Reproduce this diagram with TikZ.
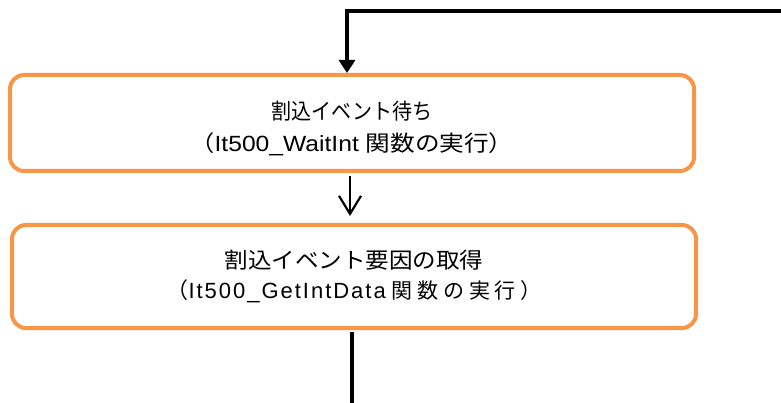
\documentclass[tikz,border=0pt]{standalone}
\usepackage{fontspec}
\setmainfont{Liberation Sans}
\newfontfamily\jp{Noto Sans CJK JP}
\usetikzlibrary{arrows.meta}
\definecolor{boxorange}{HTML}{F79646}
\begin{document}
\begin{tikzpicture}[x=1pt,y=-1pt,
  procbox/.style={draw=boxorange, line width=4pt, rounded corners=14pt,
    minimum width=684pt, inner sep=0pt, align=center,
    font=\fontsize{22pt}{32pt}\selectfont},
  thickline/.style={line width=3.5pt, black},
  thinarrow/.style={line width=2.2pt, black, -{Straight Barb[length=18pt,width=22pt,line width=2.2pt]}}]
\useasboundingbox (0,0) rectangle (781,403);
\node[procbox, minimum height=96pt] (wait) at (352,123)
  {\rule{0pt}{30pt}{\jp\addfontfeature{FakeStretch=0.91}割込イベント待ち}\\[0pt]%
   {\jp\addfontfeature{FakeStretch=1.1}（}{\addfontfeature{FakeStretch=1.12}It500\_WaitInt }{\jp\addfontfeature{FakeStretch=1.12}関数の実行）}};
\node[procbox, minimum height=103pt] (get) at (354,276.5)
  {{\jp\addfontfeature{FakeStretch=1.07}割込イベント要因の取得}\\[-2pt]%
   {\jp （}{\addfontfeature{LetterSpace=9}It500\_GetIntData} {\jp\fontsize{21pt}{32pt}\selectfont 関 数 の 実 行 ）}};
\coordinate (loopin) at (785,11);
\coordinate (loopout) at (352,405);
\draw[thickline, -{Triangle[length=13pt,width=16pt]}] (loopin) -- (347,11) -- (347,73);
\draw[thinarrow] (350,176) -- (350,216);
\draw[thickline] (get.south -| loopout) ++(0,2) -- (loopout);
\end{tikzpicture}
\end{document}
